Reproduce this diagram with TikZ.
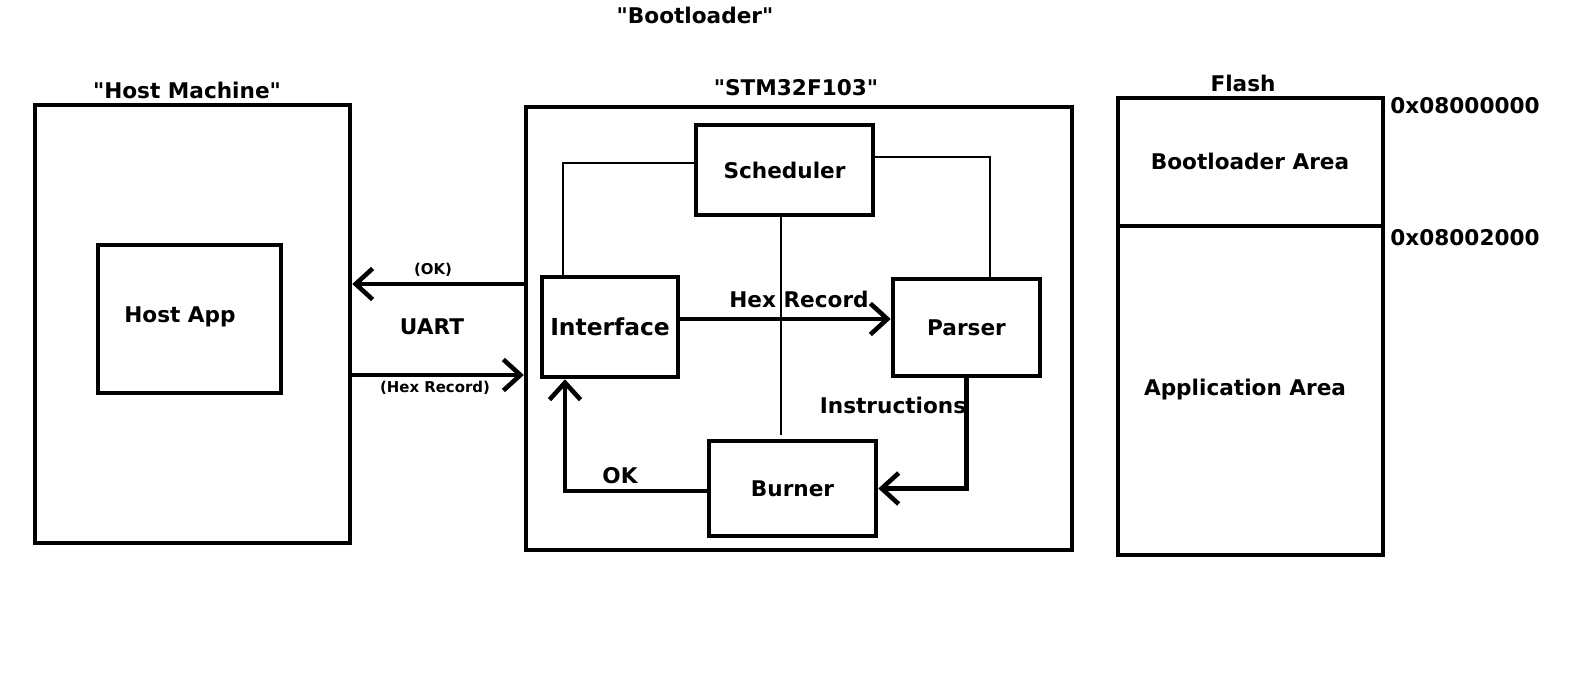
\documentclass[tikz,border=0pt]{standalone}
\usepackage{fontspec}
\setmainfont{DejaVu Sans}
\usetikzlibrary{arrows.meta}
\tikzset{
  blk/.style={draw, line width=2.6pt, inner sep=0pt},
  txt/.style={font=\bfseries\fontsize{12.3}{14}\selectfont, inner sep=0pt},
  big/.style={font=\bfseries\fontsize{13.3}{15}\selectfont, inner sep=0pt},
  small/.style={font=\bfseries\fontsize{8.5}{10}\selectfont, inner sep=0pt},
  arr/.style={line width=2.6pt, -{Straight Barb[length=0.34cm, width=0.62cm, line width=2.6pt]}},
  thin/.style={line width=0.6pt}
}
\begin{document}
\begin{tikzpicture}[x=0.02cm, y=-0.02cm]
\useasboundingbox (0,0) rectangle (1574,679);
\node[txt] (boot) at (695,15) {\textquotedbl Bootloader\textquotedbl};
% host side
\node[blk, minimum width=6.3cm, minimum height=8.76cm] (host) at (192.5,324){};
\node[txt] (hostlbl) at (187,90) {\textquotedbl Host Machine\textquotedbl};
\node[blk, minimum width=3.66cm, minimum height=2.96cm] (hostapp) at (189.5,319){};
\node[txt] (hostapptxt) at (180,317) {Host App};
% micro
\node[blk, minimum width=10.92cm, minimum height=8.86cm] (stm) at (799,328.5){};
\node[txt] (stmlbl) at (796,88) {\textquotedbl STM32F103\textquotedbl};
\node[blk, minimum width=3.54cm, minimum height=1.8cm, txt] (sched) at (784.5,170){Scheduler};
\node[blk, minimum width=2.72cm, minimum height=2cm, big] (iface) at (610,327){Interface};
\node[blk, minimum width=2.94cm, minimum height=1.94cm, txt] (parser) at (966.5,327.5){Parser};
\node[blk, minimum width=3.34cm, minimum height=1.9cm, txt] (burner) at (792.5,488.5){Burner};
\coordinate (schedend) at (781,435);
\draw[thin] (sched.west |- 0,163) -| (iface.north -| 563,0);
\draw[thin] (sched.east |- 0,157) -| (parser.north -| 990,0);
\draw[thin] (sched.south -| 781,0) -- (schedend);
\draw[arr] (iface.east |- 0,319) -- (parser.west |- 0,319);
\draw[arr] (parser.south) |- (burner.east);
\draw[arr] (burner.west |- 0,491) -| (iface.south -| 565,0);
\node[txt] (hexlbl) at (799,299) {Hex Record};
\node[txt] (instlbl) at (893,405) {Instructions};
\node[txt] (oklbl) at (620,476) {OK};
% uart
\draw[arr] (stm.west |- 0,284) -- (host.east |- 0,284);
\draw[arr] (host.east |- 0,375) -- (stm.west |- 0,375);
\node[small] (uartok) at (433,270) {(OK)};
\node[txt] (uart) at (432,327) {UART};
\node[small] (uarthex) at (435,388) {(Hex Record)};
% flash
\node[blk, minimum width=5.3cm, minimum height=2.56cm] (flashboot) at (1250.5,162){};
\node[blk, minimum width=5.3cm, minimum height=6.58cm] (flashapp) at (1250.5,390.5){};
\node[txt] (flashlbl) at (1243,83) {Flash};
\node[txt] (boottxt) at (1250,161) {Bootloader Area};
\node[txt] (apptxt) at (1245,390) {Application Area};
\node[txt] (addr0) at (1465,106) {0x08000000};
\node[txt] (addr1) at (1465,238) {0x08002000};
\end{tikzpicture}
\end{document}
